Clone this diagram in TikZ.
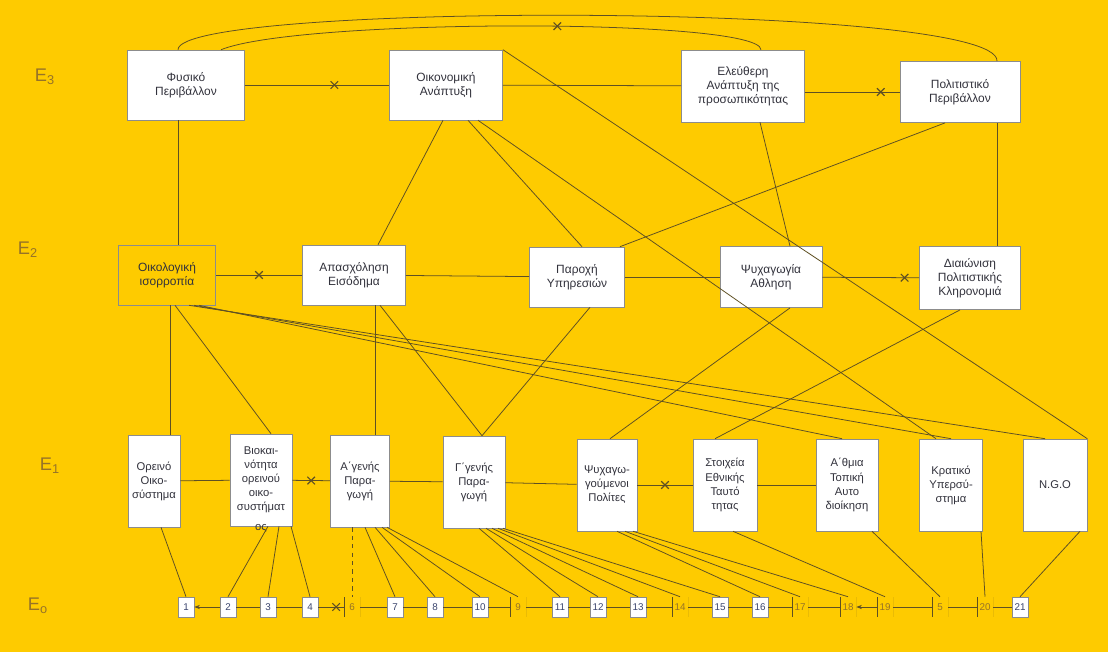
\documentclass[tikz,border=0pt]{standalone}
\usepackage{fontspec}
\setmainfont{Liberation Sans}
\usetikzlibrary{calc,shapes.misc,arrows.meta}

\definecolor{bgyellow}{RGB}{254,203,0}
\definecolor{linecol}{RGB}{95,80,35}
\definecolor{boxline}{RGB}{140,140,140}
\definecolor{boxtext}{RGB}{50,50,60}
\definecolor{numtext}{RGB}{60,70,110}
\definecolor{hand}{RGB}{150,115,40}

\begin{document}
\begin{tikzpicture}[x=0.025cm, y=-0.025cm,
    box/.style={draw=boxline, fill=white, text=boxtext, align=center, inner sep=1pt, font=\fontsize{8.5}{10}\selectfont},
    tallbox/.style={box, font=\fontsize{8}{10}\selectfont, minimum height=2.3cm},
    numbox/.style={draw=boxline, fill=white, text=numtext, inner sep=1pt, minimum width=0.4cm, minimum height=0.5cm, font=\fontsize{7}{8}\selectfont},
    numopen/.style={numbox, draw=none, fill=none, text=hand, path picture={\draw[linecol] (path picture bounding box.north west) -- (path picture bounding box.south west) (path picture bounding box.north east) -- (path picture bounding box.south east);}},
    xmark/.style={cross out, draw=linecol, thick, minimum size=1.6mm, inner sep=0pt},
    level/.style={text=hand, font=\fontsize{13}{13}\selectfont},
    link/.style={draw=linecol, line width=0.55pt}]
  \useasboundingbox (0,0) rectangle (1108,652);
  \fill[bgyellow] (0,0) rectangle (1108,652);

  % levels
  \node[level] (lev3) at (45,77) {E\textsubscript{3}};
  \node[level] (lev2) at (28,250) {E\textsubscript{2}};
  \node[level] (lev1) at (50,466) {E\textsubscript{1}};
  \node[level] (lev0) at (38,606) {E\textsubscript{o}};

  % E3
  \node[box, minimum width=2.93cm, minimum height=1.75cm] (fysiko) at (186,85) {Φυσικό\\Περιβάλλον};
  \node[box, minimum width=2.83cm, minimum height=1.75cm] (oikonomia) at (446,85) {Οικονομική\\Ανάπτυξη};
  \node[box, minimum width=3.08cm, minimum height=1.8cm] (eleftheri) at (743,86) {Ελεύθερη\\Ανάπτυξη της\\προσωπικότητας};
  \node[box, minimum width=3cm, minimum height=1.53cm] (politismos) at (960,92) {Πολιτιστικό\\Περιβάλλον};

  % E2
  \node[box, fill=none, minimum width=2.43cm, minimum height=1.5cm] (oikologia) at (167,275) {Οικολογική\\ισορροπία};
  \node[box, minimum width=2.58cm, minimum height=1.5cm] (apasxolisi) at (354,275) {Απασχόληση\\Εισόδημα};
  \node[box, minimum width=2.38cm, minimum height=1.5cm] (paroxi) at (577,277) {Παροχή\\Υπηρεσιών};
  \node[box, minimum width=2.55cm, minimum height=1.53cm] (psyxagogia) at (771,277) {Ψυχαγωγία\\Αθληση};
  \node[box, minimum width=2.53cm, minimum height=1.58cm] (diaionisi) at (970,278) {Διαιώνιση\\Πολιτιστικής\\Κληρονομιά};

  % E1
  \node[tallbox, minimum width=1.3cm] (oreino) at (154,481) {Ορεινό\\Οικο-\\σύστημα};
  \node[tallbox, minimum width=1.55cm, label={[text=boxtext, font=\fontsize{8}{10}\selectfont, yshift=5pt]below:ος}] (viokain) at (261,480) {Βιοκαι-\\νότητα\\ορεινού\\οικο-\\συστήματ};
  \node[tallbox, minimum width=1.48cm] (agenis) at (360,481) {Α΄γενής\\Παρα-\\γωγή};
  \node[tallbox, minimum width=1.55cm] (ggenis) at (474,482) {Γ΄γενής\\Παρα-\\γωγή};
  \node[tallbox, minimum width=1.5cm] (psyxpol) at (607,485) {Ψυχαγω-\\γούμενοι\\Πολίτες};
  \node[tallbox, minimum width=1.6cm] (stoixeia) at (725,485) {Στοιχεία\\Εθνικής\\Ταυτό\\τητας};
  \node[tallbox, minimum width=1.55cm] (athmia) at (847,485) {Α΄θμια\\Τοπική\\Αυτο\\διοίκηση};
  \node[tallbox, minimum width=1.58cm] (kratiko) at (951,485) {Κρατικό\\Υπερσύ-\\στημα};
  \node[tallbox, minimum width=1.6cm] (ngo) at (1055,485) {N.G.O};

  % E0
  \foreach \n/\x/\k in {1/186/numbox, 2/228/numbox, 3/268/numbox, 4/310/numbox, 6/352/numopen, 7/395/numbox, 8/435/numbox, 10/480/numbox, 9/518/numopen, 11/560/numbox, 12/598/numbox, 13/638/numbox, 14/680/numopen, 15/720/numbox, 16/760/numbox, 17/800/numopen, 18/848/numopen, 19/885/numopen, 5/940/numopen, 20/985/numopen, 21/1020/numbox}
    \node[\k] (n\n) at (\x,607) {\n};

  % E3 links
  \draw[link] (fysiko) -- node[xmark, pos=0.62]{} (oikonomia);
  \draw[link] (oikonomia) -- (eleftheri);
  \draw[link] (eleftheri.east |- politismos.west) -- node[xmark, pos=0.8]{} (politismos.west);
  \draw[link] ($(fysiko.north)+(-8,0)$) .. controls (178,2) and (1000,2) .. ($(politismos.north)+(37,0)$);
  \draw[link] ($(fysiko.north)+(35,0)$) .. controls (300,18) and (760,18) .. node[xmark, pos=0.55]{} ($(eleftheri.north)+(18,0)$);

  % E3 to E2
  \draw[link] ($(fysiko.south)+(-8,0)$) -- ($(oikologia.north)+(11,0)$);
  \draw[link] ($(oikonomia.south)+(-3,0)$) -- ($(apasxolisi.north)+(24,0)$);
  \draw[link] ($(oikonomia.south)+(22,0)$) -- ($(paroxi.north)+(5,0)$);
  \draw[link] ($(oikonomia.south)+(32,0)$) -- ($(kratiko.north)+(-15,0)$);
  \draw[link] (oikonomia.north east) -- (ngo.north east);
  \draw[link] ($(eleftheri.south)+(17,0)$) -- ($(psyxagogia.north)+(19,0)$);
  \draw[link] ($(politismos.south)+(37,0)$) -- ($(diaionisi.north)+(27,0)$);
  \draw[link] ($(politismos.south)+(-15,0)$) -- ($(paroxi.north east)+(-5,0)$);

  % E2 links
  \draw[link] (oikologia) -- node[xmark]{} (apasxolisi);
  \draw[link] (apasxolisi) -- (paroxi);
  \draw[link] (paroxi) -- (psyxagogia);
  \draw[link] (psyxagogia) -- node[xmark, pos=0.85]{} (diaionisi);

  % E2 to E1
  \draw[link] ($(oikologia.south)+(3,0)$) -- ($(oreino.north)+(16,0)$);
  \draw[link] ($(oikologia.south)+(8,0)$) -- ($(viokain.north)+(10,0)$);
  \draw[link] ($(oikologia.south)+(22,0)$) -- ($(ngo.north)+(-10,0)$);
  \draw[link] ($(oikologia.south)+(27,0)$) -- (kratiko.north);
  \draw[link] ($(oikologia.south)+(32,0)$) -- ($(athmia.north)+(-5,0)$);
  \draw[link] ($(apasxolisi.south)+(21,0)$) -- ($(agenis.north)+(15,0)$);
  \draw[link] ($(apasxolisi.south)+(26,0)$) -- ($(ggenis.north)+(8,0)$);
  \draw[link] ($(paroxi.south)+(13,0)$) -- ($(ggenis.north)+(8,0)$);
  \draw[link] ($(psyxagogia.south)+(19,0)$) -- ($(psyxpol.north)+(3,0)$);
  \draw[link] ($(diaionisi.south)+(-10,0)$) -- ($(stoixeia.north)+(-10,0)$);

  % E1 links
  \draw[link] (oreino) -- (viokain);
  \draw[link] (viokain) -- node[xmark]{} (agenis);
  \draw[link] (agenis) -- (ggenis);
  \draw[link] (ggenis) -- (psyxpol);
  \draw[link] (psyxpol) -- node[xmark]{} (stoixeia);
  \draw[link] (stoixeia) -- (athmia);

  % E1 to E0
  \draw[link, dashed] ($(agenis.south)+(-8,0)$) -- (n6.north);
  \foreach \src/\dx/\dst in {oreino/7/1, viokain/7/2, viokain/18/3, viokain/30/4, agenis/5/7, agenis/15/8, agenis/22/10, agenis/27/9, ggenis/5/11, ggenis/12/12, ggenis/18/13, ggenis/24/14, ggenis/29/15, psyxpol/10/16, psyxpol/18/17, psyxpol/26/18, stoixeia/8/19, athmia/25/5, kratiko/30/20, ngo/25/21}
    \draw[link] ($(\src.south)+(\dx,0)$) -- (n\dst.north);

  % E0 links
  \foreach \a/\b in {2/3, 3/4, 6/7, 7/8, 8/10, 10/9, 9/11, 11/12, 12/13, 13/14, 14/15, 15/16, 16/17, 17/18, 19/5, 5/20, 20/21}
    \draw[link] (n\a) -- (n\b);
  \draw[link, -{Stealth[length=4pt, width=3pt]}] (n2) -- (n1);
  \draw[link, -{Stealth[length=4pt, width=3pt]}] (n19) -- (n18);
  \draw[link] (n4) -- node[xmark, pos=0.7]{} (n6);
\end{tikzpicture}
\end{document}
